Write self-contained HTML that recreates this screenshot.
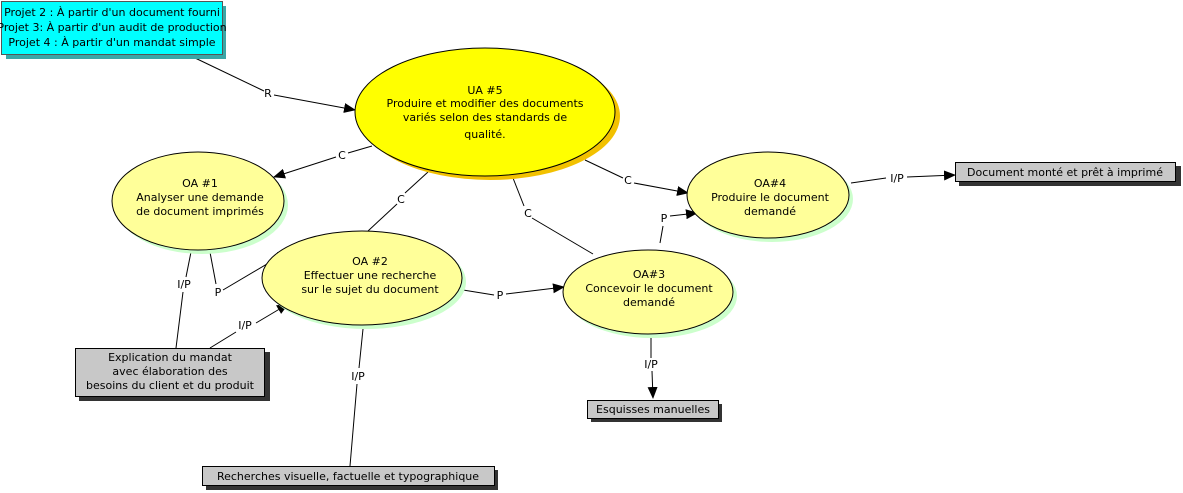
<!DOCTYPE html>
<html><head><meta charset="utf-8"><style>
html,body{margin:0;padding:0;background:#fff;}
svg{display:block;}
text{font-family:"DejaVu Sans","Liberation Sans",sans-serif;font-size:11px;fill:#000;}
.l{fill:#000;}
</style></head><body>
<svg width="1183" height="493" viewBox="0 0 1183 493" xmlns="http://www.w3.org/2000/svg">
<defs><marker id="a" markerWidth="12" markerHeight="10" refX="11" refY="5" orient="auto" markerUnits="userSpaceOnUse"><path d="M0,0 L12,5 L0,10 z" fill="#000"/></marker></defs>
<!-- connectors -->
<g stroke="#000" stroke-width="1" fill="none">
<line x1="193" y1="57" x2="264" y2="91"/><line x1="274" y1="95" x2="355" y2="110" marker-end="url(#a)"/>
<line x1="372" y1="146" x2="348" y2="153"/><line x1="336" y1="157" x2="274" y2="177" marker-end="url(#a)"/>
<line x1="428" y1="172" x2="405" y2="193"/><line x1="397" y1="204" x2="368" y2="231"/>
<line x1="513" y1="178" x2="524" y2="206"/><line x1="532" y1="218" x2="593" y2="254"/>
<line x1="585" y1="160" x2="623" y2="178"/><line x1="634" y1="183" x2="688" y2="193" marker-end="url(#a)"/>
<line x1="660" y1="243" x2="663" y2="226"/><line x1="670" y1="216" x2="697" y2="213" marker-end="url(#a)"/>
<line x1="851" y1="183" x2="886" y2="178"/><line x1="907" y1="177" x2="955" y2="175" marker-end="url(#a)"/>
<line x1="651" y1="335" x2="651" y2="358"/><line x1="652" y1="371" x2="653" y2="398" marker-end="url(#a)"/>
<line x1="463" y1="290" x2="494" y2="295"/><line x1="506" y1="294" x2="564" y2="287" marker-end="url(#a)"/>
<line x1="209" y1="247" x2="216" y2="284"/><line x1="223" y1="290" x2="289" y2="251" marker-end="url(#a)"/>
<line x1="191" y1="252" x2="186" y2="277"/><line x1="183" y1="292" x2="176" y2="348"/>
<line x1="210" y1="348" x2="236" y2="332"/><line x1="256" y1="323" x2="288" y2="304" marker-end="url(#a)"/>
<line x1="363" y1="329" x2="359" y2="368"/><line x1="357" y1="384" x2="350" y2="466"/>
</g>
<!-- connector labels -->
<g text-anchor="middle">
<text x="268" y="97">R</text>
<text x="342" y="159">C</text>
<text x="401" y="203">C</text>
<text x="528" y="217">C</text>
<text x="628" y="184">C</text>
<text x="664" y="222">P</text>
<text x="897" y="182">I/P</text>
<text x="651" y="368">I/P</text>
<text x="500" y="299">P</text>
<text x="218" y="296">P</text>
<text x="184" y="288">I/P</text>
<text x="245" y="329">I/P</text>
<text x="358" y="380">I/P</text>
</g>
<!-- cyan box -->
<rect x="6" y="6" width="220" height="53" fill="#3aa6a6"/>
<rect x="1.5" y="1.5" width="221" height="53" fill="#00ffff" stroke="#555"/>
<g text-anchor="middle"><text x="112" y="16">Projet 2 : À partir d'un document fourni</text>
<text x="112" y="31">Projet 3: À partir d'un audit de production</text>
<text x="112" y="46">Projet 4 : À partir d'un mandat simple</text></g>
<!-- UA5 -->
<ellipse cx="490" cy="116" rx="130" ry="64" fill="#f2c100"/>
<ellipse cx="485" cy="112" rx="130" ry="64" fill="#ffff00" stroke="#000"/>
<g text-anchor="middle"><text x="485" y="94">UA #5</text><text x="485" y="107">Produire et modifier des documents</text><text x="485" y="121">variés selon des standards de</text><text x="485" y="138">qualité.</text></g>
<!-- OA ellipses -->
<g fill="#ccffcc"><ellipse cx="202" cy="205" rx="86" ry="49"/><ellipse cx="366" cy="282" rx="100" ry="47"/><ellipse cx="652" cy="296" rx="85" ry="42"/><ellipse cx="772" cy="199" rx="81" ry="43"/></g>
<g fill="#ffff99" stroke="#000"><ellipse cx="198" cy="201" rx="86" ry="49"/><ellipse cx="362" cy="278" rx="100" ry="47"/><ellipse cx="648" cy="292" rx="85" ry="42"/><ellipse cx="768" cy="195" rx="81" ry="43"/></g>
<g text-anchor="middle">
<text x="200" y="187">OA #1</text><text x="200" y="201">Analyser une demande</text><text x="200" y="215">de document imprimés</text>
<text x="370" y="265">OA #2</text><text x="370" y="279">Effectuer une recherche</text><text x="370" y="293">sur le sujet du document</text>
<text x="649" y="278">OA#3</text><text x="649" y="292">Concevoir le document</text><text x="649" y="306">demandé</text>
<text x="770" y="187">OA#4</text><text x="770" y="201">Produire le document</text><text x="770" y="215">demandé</text>
</g>
<!-- gray boxes -->
<g fill="#333"><rect x="959" y="166" width="222" height="20"/><rect x="591" y="404" width="131" height="18"/><rect x="206" y="470" width="292" height="20"/><rect x="79" y="352" width="191" height="49"/></g>
<g fill="#c8c8c8" stroke="#000"><rect x="955.5" y="162.5" width="220" height="19"/><rect x="587.5" y="400.5" width="131" height="18"/><rect x="202.5" y="466.5" width="292" height="19"/><rect x="75.5" y="348.5" width="189" height="48"/></g>
<g text-anchor="middle">
<text x="1065" y="176">Document monté et prêt à imprimé</text>
<text x="653" y="413">Esquisses manuelles</text>
<text x="348" y="480">Recherches visuelle, factuelle et typographique</text>
<text x="170" y="361">Explication du mandat</text><text x="170" y="375">avec élaboration des</text><text x="170" y="389">besoins du client et du produit</text>
</g>
</svg>
</body></html>
